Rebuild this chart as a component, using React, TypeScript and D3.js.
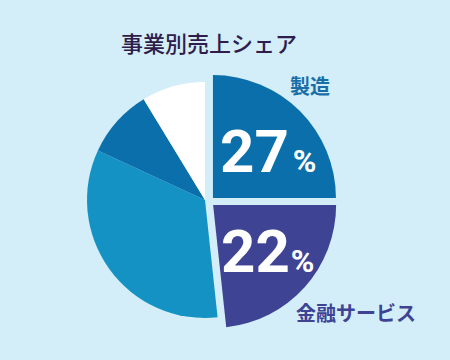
import React from "react";
import * as d3 from "d3";

const title = "事業別売上シェア";
const segments = ["製造", "金融サービス", "その他A", "その他B", "その他C"];
// visual shares of the circle as drawn in the picture
const sliceShares = [25, 23.3, 33.6, 9.4, 8.7];
const labelPercents = [27, 22, null, null, null];
const highlighted = [true, true, false, false, false];
const colors = ["#0a6fab", "#3e4394", "#1592c4", "#0a6fab", "#ffffff"];

const W = 450;
const H = 360;
const cx = 205;
const cy = 200;
const rMain = 118;
const rHi = 123;
const shift = [4.4, 1.6];
const explode = 5;

export default function App() {
  const pie = d3
    .pie<number>()
    .sort(null)
    .value((d) => d)
    .startAngle(0)
    .endAngle(2 * Math.PI);
  const arcs = pie(sliceShares);

  const jp = "'Noto Sans CJK JP', 'Noto Sans', sans-serif";
  const num = "Roboto, 'DejaVu Sans', sans-serif";

  return (
    <svg
      width={W}
      height={H}
      style={{ position: "absolute", left: 0, top: 0, background: "#d3eef8" }}
    >
      <rect width={W} height={H} fill="#d3eef8" />
      <text
        x={209}
        y={52}
        textAnchor="middle"
        fontFamily={jp}
        fontSize={22}
        fontWeight={500}
        fill="#2e1c4c"
      >
        {title}
      </text>
      <g transform={`translate(${cx},${cy})`}>
        {arcs.map((a, i) => {
          const hi = highlighted[i];
          const arc = d3
            .arc<d3.PieArcDatum<number>>()
            .innerRadius(0)
            .outerRadius(hi ? rHi : rMain);
          const mid = (a.startAngle + a.endAngle) / 2;
          const dx = hi ? shift[0] + explode * Math.sin(mid) : 0;
          const dy = hi ? shift[1] - explode * Math.cos(mid) : 0;
          return (
            <path
              key={segments[i]}
              d={arc(a) || ""}
              fill={colors[i]}
              transform={`translate(${dx},${dy})`}
            />
          );
        })}
      </g>
      {/* 27% */}
      <text x={220} y={172} fontFamily={num} fontWeight={700} fill="#ffffff">
        <tspan fontSize={60}>{labelPercents[0]}</tspan>
        <tspan fontSize={32} dx={4}>%</tspan>
      </text>
      {/* 22% */}
      <text x={221} y={272} fontFamily={num} fontWeight={700} fill="#ffffff">
        <tspan fontSize={60}>{labelPercents[1]}</tspan>
        <tspan fontSize={32} dx={1}>%</tspan>
      </text>
      <text
        x={290}
        y={94}
        fontFamily={jp}
        fontSize={20}
        fontWeight={700}
        fill="#1a6ea8"
      >
        {segments[0]}
      </text>
      <text
        x={296}
        y={321}
        fontFamily={jp}
        fontSize={20}
        fontWeight={700}
        fill="#3e4394"
      >
        {segments[1]}
      </text>
    </svg>
  );
}
